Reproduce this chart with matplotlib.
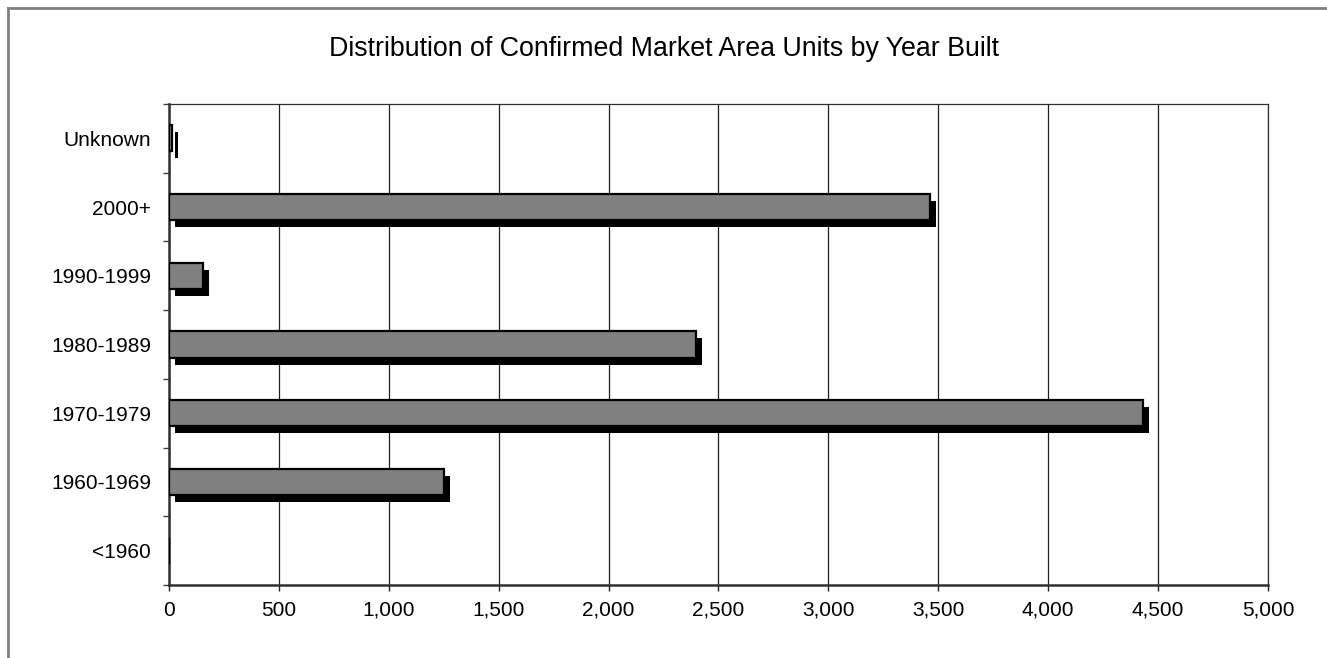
import matplotlib
matplotlib.use("Agg")
import matplotlib.pyplot as plt
from matplotlib.transforms import ScaledTranslation
from matplotlib.lines import Line2D
from matplotlib.ticker import FuncFormatter, FixedLocator

plt.rcParams['font.family'] = ['Liberation Sans', 'DejaVu Sans']

categories = ["<1960", "1960-1969", "1970-1979", "1980-1989", "1990-1999", "2000+", "Unknown"]
units = [0, 1250, 4430, 2398, 156, 3462, 15]
x_ticks = [0, 500, 1000, 1500, 2000, 2500, 3000, 3500, 4000, 4500, 5000]
title = "Distribution of Confirmed Market Area Units by Year Built"

dpi = 100
fig = plt.figure(figsize=(13.27, 6.58), dpi=dpi)
W, H = 1327, 658
left, right, top, bottom = 169, 1268, 104, 585
ax = fig.add_axes([left / W, 1 - bottom / H, (right - left) / W, (bottom - top) / H])

ypos = list(range(len(categories)))
bar_h = 0.38
shadow_tr = ax.transData + ScaledTranslation(6 / dpi, -7 / dpi, fig.dpi_scale_trans)
ax.barh(ypos, units, height=bar_h, color="black", edgecolor="black", linewidth=0,
        transform=shadow_tr, zorder=2)
ax.barh(ypos, units, height=bar_h, color="#808080", edgecolor="black", linewidth=1.6, zorder=3)

ax.set_xlim(0, 5000)
ax.set_ylim(-0.5, len(categories) - 0.5)
ax.set_xticks(x_ticks)
ax.xaxis.set_major_formatter(FuncFormatter(lambda v, p: f"{int(v):,}"))
ax.set_yticks(ypos)
ax.set_yticklabels(categories)
ax.yaxis.set_minor_locator(FixedLocator([i + 0.5 for i in range(-1, len(categories))]))
ax.tick_params(axis="y", which="major", length=0, pad=13, labelsize=15)
ax.tick_params(axis="y", which="minor", length=4.5, width=1, color="#404040", direction="out")
ax.tick_params(axis="x", which="major", length=4.5, width=1, color="#202020", pad=7, labelsize=15)
ax.grid(axis="x", color="#202020", linewidth=0.9, zorder=1)
ax.set_axisbelow(True)

for s in ["top", "right"]:
    ax.spines[s].set_color("#303030")
    ax.spines[s].set_linewidth(0.9)
for s in ["left", "bottom"]:
    ax.spines[s].set_color("#303030")
    ax.spines[s].set_linewidth(1.8)

fig.text(664 / W, 1 - 49 / H, title, ha="center", va="center", fontsize=19.3)

# chart-area border (left and top edges visible)
fig.add_artist(Line2D([7.5 / W, 7.5 / W], [0, 1 - 7.5 / H], transform=fig.transFigure,
                      color="#808080", linewidth=2))
fig.add_artist(Line2D([7.5 / W, 1], [1 - 7.5 / H, 1 - 7.5 / H], transform=fig.transFigure,
                      color="#808080", linewidth=2))

fig.savefig("out.png", dpi=dpi)
